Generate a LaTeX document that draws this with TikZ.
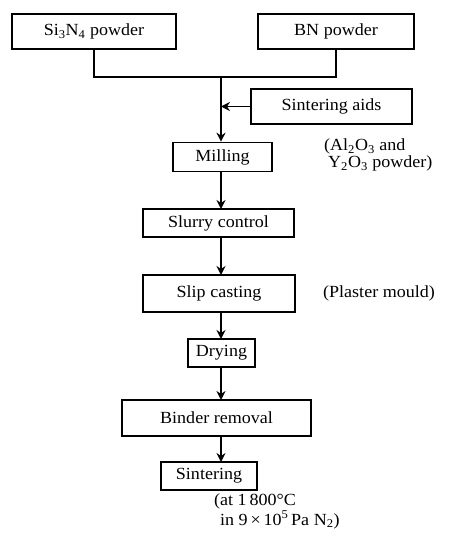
\documentclass[tikz,border=0pt]{standalone}
\usepackage{fontspec}
\setmainfont[FakeStretch=1.06]{Liberation Serif}
\usetikzlibrary{arrows.meta}
\begin{document}
\begin{tikzpicture}[x=1pt,y=-1pt,
  box/.style={draw,line width=1.6pt,inner sep=0pt,font=\fontsize{17}{20}\selectfont},
  lab/.style={inner sep=0pt,font=\fontsize{17}{18}\selectfont,align=left},
  conn/.style={line width=1.5pt},
  arr/.style={line width=1.5pt,-{Stealth[length=9pt,width=9pt,inset=3pt]}}]
\useasboundingbox (0,0) rectangle (454,540);
\node[box,minimum width=164pt,minimum height=35pt] (si) at (94,31.5) {Si\textsubscript{3}N\textsubscript{4} powder};
\node[box,minimum width=156pt,minimum height=35pt] (bn) at (336,31.5) {BN powder};
\node[box,minimum width=161pt,minimum height=35pt] (aids) at (331.5,106.5) {Sintering aids};
\node[box,minimum width=99pt,minimum height=29pt] (mill) at (222.5,157) {Milling};
\node[box,minimum width=151pt,minimum height=28pt] (slurry) at (218.5,223) {Slurry control};
\node[box,minimum width=152pt,minimum height=37pt] (slip) at (219,293.5) {Slip casting};
\node[box,minimum width=67pt,minimum height=28pt] (dry) at (221.5,353) {Drying};
\node[box,minimum width=189pt,minimum height=36pt] (binder) at (216.5,418) {Binder removal};
\node[box,minimum width=96pt,minimum height=28pt] (sint) at (209,476) {Sintering};
\coordinate (jl) at (si.south |- 0,77);
\coordinate (jr) at (bn.south |- 0,77);
\coordinate (jm) at (221,77);
\coordinate (ja) at (221,106.5);
\draw[conn] (si.south) -- (jl) -- (jr) -- (bn.south);
\draw[arr] (jm) -- (jm |- mill.north);
\draw[arr] (aids.west) -- (ja);
\draw[arr] (221,171.5) -- (221,209);
\draw[arr] (221,237) -- (221,275);
\draw[arr] (221,312) -- (221,339);
\draw[arr] (221,367) -- (221,400);
\draw[arr] (221,436) -- (221,462);
\node[lab,anchor=north west] (al) at (324,139) {(Al\textsubscript{2}O\textsubscript{3} and\\[-1pt]\hspace{4pt}Y\textsubscript{2}O\textsubscript{3} powder)};
\node[lab,anchor=west] (pm) at (323,293.5) {(Plaster mould)};
\node[lab,anchor=north west] (cond) at (214,493) {(at 1\,800°C\\[2pt]\hspace{6pt}in 9\,×\,10\textsuperscript{5}\,Pa N\textsubscript{2})};
\end{tikzpicture}
\end{document}
